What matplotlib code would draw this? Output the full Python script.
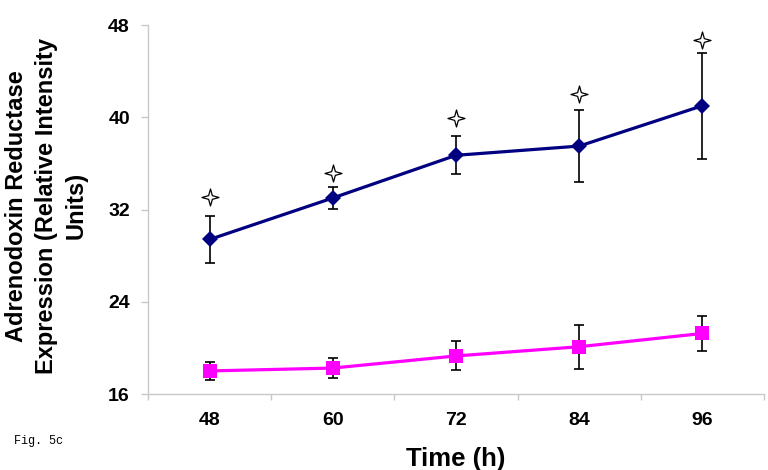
import numpy as np
import matplotlib.pyplot as plt
from matplotlib.path import Path

plt.rcParams["font.family"] = ["Liberation Sans", "DejaVu Sans"]

times = ["48", "60", "72", "84", "96"]
treated = [29.4, 33.0, 36.7, 37.5, 41.0]
treated_err = [2.0, 0.95, 1.65, 3.1, 4.6]
control = [18.0, 18.25, 19.3, 20.1, 21.25]
control_err = [0.75, 0.88, 1.26, 1.9, 1.55]
star_y = [33.1, 35.2, 39.9, 42.0, 46.7]

yticks = [16, 24, 32, 40, 48]

# 4-point outlined star for significance
r_in = 0.22
star_verts = [(0, 1), (r_in, r_in), (1, 0), (r_in, -r_in), (0, -1),
              (-r_in, -r_in), (-1, 0), (-r_in, r_in), (0, 1)]
star = Path(star_verts, [Path.MOVETO] + [Path.LINETO] * 7 + [Path.CLOSEPOLY])

fig = plt.figure(figsize=(7.68, 4.70), dpi=100)
ax = fig.add_axes([0.1927, 0.1617, 0.8021, 0.7851])

x = np.arange(len(times))
grey = "#c8c8c8"

ax.errorbar(x, treated, yerr=treated_err, fmt="none", ecolor="k",
            elinewidth=1.2, capsize=3.5, capthick=1.2, zorder=2)
ax.errorbar(x, control, yerr=control_err, fmt="none", ecolor="k",
            elinewidth=1.2, capsize=3.5, capthick=1.2, zorder=2)
ax.plot(x, treated, color="#000080", lw=2.3, marker="D", ms=8,
        markeredgewidth=0, zorder=3)
ax.plot(x, control, color="#ff00ff", lw=2.3, marker="s", ms=10,
        markeredgewidth=0, zorder=3)
ax.scatter(x, star_y, marker=star, s=150, facecolor="white",
           edgecolor="k", linewidths=0.9, zorder=4)

ax.set_xlim(-0.5, len(times) - 0.5)
ax.set_ylim(16, 48)
ax.set_xticks(x)
ax.set_xticklabels(times)
ax.set_xticks(np.arange(-0.5, len(times)), minor=True)
ax.set_yticks(yticks)

for s in ["top", "right"]:
    ax.spines[s].set_visible(False)
for s in ["left", "bottom"]:
    ax.spines[s].set_color(grey)
    ax.spines[s].set_linewidth(1.0)

ax.tick_params(axis="x", which="major", length=0, pad=13,
               labelsize=14)
ax.tick_params(axis="x", which="minor", length=4, color=grey, width=1.0)
ax.tick_params(axis="y", length=5, color=grey, width=1.0, pad=8,
               labelsize=14)
for lab in ax.get_xticklabels() + ax.get_yticklabels():
    lab.set_fontweight("bold")

ax.set_xlabel("Time (h)", fontsize=18.5, fontweight="bold", labelpad=13)
fig.text(0.06, 0.562,
         "Adrenodoxin Reductase\nExpression (Relative Intensity\nUnits)",
         rotation=90, ha="center", va="center", multialignment="center",
         fontsize=17, fontweight="bold", linespacing=1.38)

fig.text(0.018, 0.055, "Fig. 5c", family="Liberation Mono", fontsize=8.5)

fig.savefig("out.png", dpi=100)
